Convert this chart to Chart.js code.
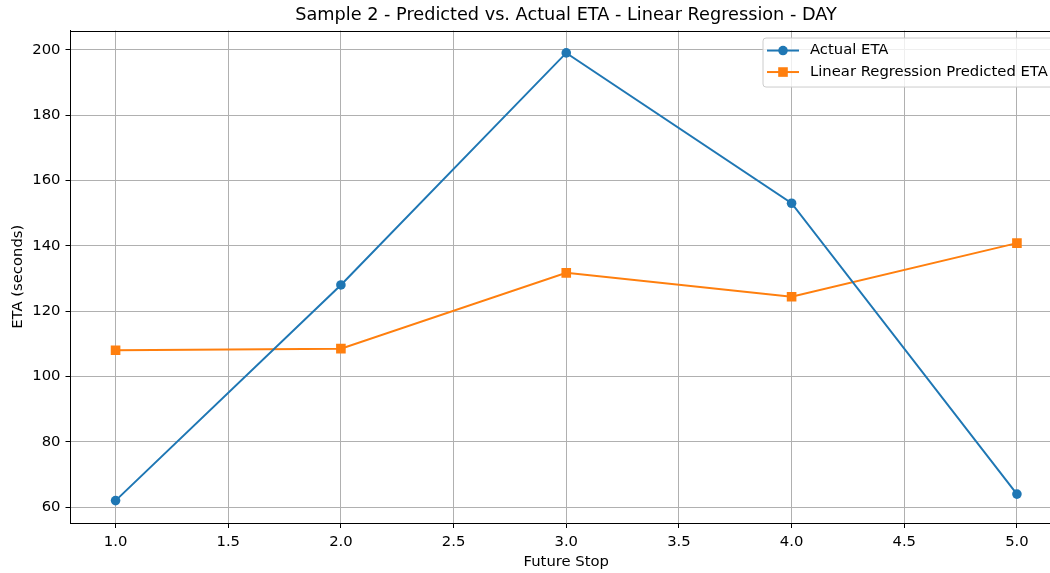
<!DOCTYPE html>
<html>
<head>
<meta charset="utf-8">
<script src="https://cdn.jsdelivr.net/npm/chart.js@4/dist/chart.umd.min.js"></script>
<style>
  html, body { margin: 0; padding: 0; background: #fff; overflow: hidden; width: 1050px; height: 573px; }
  #wrap { width: 1132px; height: 573px; }
</style>
</head>
<body>
<div id="wrap"><canvas id="c" width="1132" height="573"></canvas></div>
<script>
// ---- data ----
const futureStops = [1, 2, 3, 4, 5];
const actualETA = [62, 128, 199, 153, 64];
const predictedETA = [108, 108.5, 131.7, 124.4, 140.8];
const xTicks = [1.0, 1.5, 2.0, 2.5, 3.0, 3.5, 4.0, 4.5, 5.0];
const yTicks = [60, 80, 100, 120, 140, 160, 180, 200];
const seriesNames = ['Actual ETA', 'Linear Regression Predicted ETA'];
const chartTitle = 'Sample 2 - Predicted vs. Actual ETA - Linear Regression - DAY';
const xTitle = 'Future Stop';
const yTitle = 'ETA (seconds)';

const BLUE = '#1f77b4', ORANGE = '#ff7f0e';
const FONT = 'DejaVu Sans';
const FS = 14.8, TFS = 17.7;

const toPts = (xs, ys) => xs.map((x, i) => ({ x: x, y: ys[i] }));

const frameAndLegend = {
  id: 'frameAndLegend',
  afterDraw(chart) {
    const { ctx, chartArea: a } = chart;
    ctx.save();
    // top and right spines
    ctx.strokeStyle = '#000';
    ctx.lineWidth = 1;
    ctx.beginPath();
    ctx.moveTo(a.left, Math.round(a.top) + 0.5);
    ctx.lineTo(a.right, Math.round(a.top) + 0.5);
    ctx.moveTo(Math.round(a.right) + 0.5, a.top);
    ctx.lineTo(Math.round(a.right) + 0.5, a.bottom);
    ctx.stroke();

    // legend
    const bx = a.right - 299, by = a.top + 7.5, bw = 292, bh = 49, r = 3;
    ctx.beginPath();
    ctx.moveTo(bx + r, by);
    ctx.lineTo(bx + bw - r, by);
    ctx.quadraticCurveTo(bx + bw, by, bx + bw, by + r);
    ctx.lineTo(bx + bw, by + bh - r);
    ctx.quadraticCurveTo(bx + bw, by + bh, bx + bw - r, by + bh);
    ctx.lineTo(bx + r, by + bh);
    ctx.quadraticCurveTo(bx, by + bh, bx, by + bh - r);
    ctx.lineTo(bx, by + r);
    ctx.quadraticCurveTo(bx, by, bx + r, by);
    ctx.closePath();
    ctx.fillStyle = 'rgba(255,255,255,0.8)';
    ctx.fill();
    ctx.strokeStyle = '#cccccc';
    ctx.lineWidth = 1;
    ctx.stroke();

    chart.data.datasets.forEach((ds, i) => {
      const y = by + 12.5 + i * 21.5;
      const x0 = bx + 4, x1 = bx + 36;
      ctx.strokeStyle = ds.borderColor;
      ctx.lineWidth = 2;
      ctx.beginPath();
      ctx.moveTo(x0, y);
      ctx.lineTo(x1, y);
      ctx.stroke();
      ctx.fillStyle = ds.borderColor;
      const mx = (x0 + x1) / 2;
      if (ds.pointStyle === 'rect') {
        ctx.fillRect(mx - 4.8, y - 4.8, 9.6, 9.6);
      } else {
        ctx.beginPath();
        ctx.arc(mx, y, 4.8, 0, Math.PI * 2);
        ctx.fill();
      }
      ctx.fillStyle = '#000';
      ctx.font = FS + 'px "' + FONT + '"';
      ctx.textBaseline = 'middle';
      ctx.textAlign = 'left';
      ctx.fillText(ds.label, bx + 47, y);
    });
    ctx.restore();
  }
};

new Chart(document.getElementById('c'), {
  type: 'line',
  data: {
    datasets: [
      {
        label: seriesNames[0],
        data: toPts(futureStops, actualETA),
        borderColor: BLUE, backgroundColor: BLUE,
        borderWidth: 2, pointStyle: 'circle', pointRadius: 4.8,
        pointBorderWidth: 0, pointHoverRadius: 4.8, tension: 0, fill: false
      },
      {
        label: seriesNames[1],
        data: toPts(futureStops, predictedETA),
        borderColor: ORANGE, backgroundColor: ORANGE,
        borderWidth: 2, pointStyle: 'rect', pointRadius: 6.8,
        pointBorderWidth: 0, pointHoverRadius: 6.8, tension: 0, fill: false
      }
    ]
  },
  options: {
    responsive: false,
    animation: false,
    devicePixelRatio: 1,
    layout: { padding: 0 },
    plugins: {
      legend: { display: false },
      tooltip: { enabled: false },
      title: {
        display: true, text: chartTitle, color: '#000',
        font: { family: FONT, size: TFS, weight: 'normal', lineHeight: 1.2 },
        padding: { top: 4.4, bottom: 4.9 }
      }
    },
    scales: {
      x: {
        type: 'linear', min: 0.8, max: 5.2,
        afterBuildTicks: s => { s.ticks = xTicks.map(v => ({ value: v })); },
        afterFit: s => { s.height = 50; },
        ticks: {
          color: '#000', padding: 5, maxRotation: 0, autoSkip: false,
          font: { family: FONT, size: FS },
          callback: v => Number(v).toFixed(1)
        },
        grid: { color: '#b0b0b0', lineWidth: 1, tickLength: 5, tickColor: '#000', drawOnChartArea: true },
        border: { color: '#000', width: 1 },
        title: {
          display: true, text: xTitle, color: '#000',
          font: { family: FONT, size: FS, lineHeight: 1.2 },
          padding: { top: 0, bottom: 2.4 }
        }
      },
      y: {
        type: 'linear', min: 55.15, max: 205.85,
        afterBuildTicks: s => { s.ticks = yTicks.map(v => ({ value: v })); },
        afterFit: s => { s.width = 70.5; },
        ticks: {
          color: '#000', padding: 5, autoSkip: false,
          font: { family: FONT, size: FS },
          callback: v => String(v)
        },
        grid: { color: '#b0b0b0', lineWidth: 1, tickLength: 5, tickColor: '#000', drawOnChartArea: true },
        border: { color: '#000', width: 1 },
        title: {
          display: true, text: yTitle, color: '#000',
          font: { family: FONT, size: FS, lineHeight: 1.2 },
          padding: { top: 9.1, bottom: 0 }
        }
      },
      spacer: {
        type: 'linear', position: 'right', min: 0, max: 1,
        afterFit: s => { s.width = 70; },
        ticks: { display: false },
        grid: { display: false, drawOnChartArea: false },
        border: { display: false },
        title: { display: false }
      }
    }
  },
  plugins: [frameAndLegend]
});
</script>
</body>
</html>
